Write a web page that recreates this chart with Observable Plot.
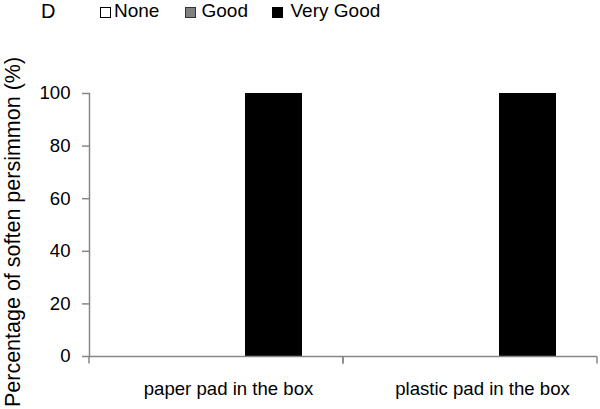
<!DOCTYPE html>
<html>
<head>
<meta charset="utf-8">
<script src="https://cdn.jsdelivr.net/npm/d3@7"></script>
<script src="https://cdn.jsdelivr.net/npm/@observablehq/plot@0.6"></script>
<style>
  body { margin: 0; background: #fff; font-family: "Liberation Sans", Arial, sans-serif; }
  #wrap { width: 600px; position: relative; }
  #legend { position: relative; height: 24px; width: 600px; font-size: 19px; line-height: 22px; color: #000; }
  #legend span { position: absolute; top: 0; white-space: nowrap; }
  #legend i { position: absolute; top: 7px; width: 9px; height: 9px; border: 1px solid #000; }
</style>
</head>
<body>
<div id="wrap">
  <div id="legend"></div>
  <div id="chart"></div>
</div>
<script>
const panelLabel = "D";
const categories = ["paper pad in the box", "plastic pad in the box"];
const series = ["None", "Good", "Very Good"];
const noneValues = [0, 0];
const goodValues = [0, 0];
const veryGoodValues = [100, 100];
const yTicks = [0, 20, 40, 60, 80, 100];
const yLabel = "Percentage of soften persimmon (%)";
const seriesColors = ["#ffffff", "#808080", "#000000"];
const seriesBorders = ["#000000", "#333333", "#000000"];

const valuesBySeries = [noneValues, goodValues, veryGoodValues];
const data = [];
categories.forEach((c, i) => series.forEach((s, j) => data.push({category: c, series: s, value: valuesBySeries[j][i]})));

// legend
const legend = document.getElementById("legend");
const d = document.createElement("span");
d.textContent = panelLabel; d.style.left = "41px"; d.style.fontSize = "20px";
legend.appendChild(d);
const swatchX = [100, 185, 272];
const textX = [114, 201.5, 290.5];
series.forEach((s, j) => {
  const sw = document.createElement("i");
  sw.style.left = swatchX[j] + "px";
  sw.style.background = seriesColors[j];
  sw.style.borderColor = seriesBorders[j];
  legend.appendChild(sw);
  const t = document.createElement("span");
  t.textContent = s; t.style.left = textX[j] + "px";
  legend.appendChild(t);
});

const axisColor = "#878787";

function baselineWithTicks(index, scales, values, dimensions, context, next) {
  const g = next(index, scales, values, dimensions, context);
  const {marginLeft, marginRight, width} = dimensions;
  const y0 = scales.y(0);
  for (const x of [marginLeft, width - marginRight]) {
    const line = document.createElementNS("http://www.w3.org/2000/svg", "line");
    line.setAttribute("x1", x); line.setAttribute("x2", x);
    line.setAttribute("y1", y0); line.setAttribute("y2", y0 + 7);
    line.setAttribute("stroke", axisColor);
    line.setAttribute("stroke-width", 1.5);
    g.appendChild(line);
  }
  return g;
}

const chart = Plot.plot({
  width: 600,
  height: 385,
  marginTop: 69,
  marginBottom: 53,
  marginLeft: 89,
  marginRight: 3,
  style: {fontFamily: "'Liberation Sans', Arial, sans-serif", fontSize: "18.6px", color: "#000", background: "#fff"},
  fx: {domain: categories, padding: 0},
  x: {domain: series, paddingInner: 0, paddingOuter: 0.7, axis: null},
  y: {domain: [0, 100]},
  color: {domain: series, range: seriesColors},
  marks: [
    Plot.barY(data, {fx: "category", x: "series", y: "value", fill: "series"}),
    Plot.ruleY([0], {stroke: axisColor, strokeWidth: 1.5, render: baselineWithTicks}),
    Plot.frame({anchor: "left", stroke: axisColor, strokeWidth: 1.5, fx: () => categories[0]}),
    Plot.axisY(yTicks, {tickSize: 7, tickPadding: 12, stroke: axisColor, strokeWidth: 1.5, fill: "#000", label: null, fontSize: 18.6}),
    Plot.axisFx({anchor: "bottom", tickSize: 0, tickPadding: 25, dx: 12, label: null, fill: "#000", fontSize: 18.6}),
    Plot.text([yLabel], {fx: () => categories[0], text: d => d, frameAnchor: "left", textAnchor: "middle", rotate: -90, dx: -76.5, dy: 7, fontSize: 21.5, fill: "#000"})
  ]
});
document.getElementById("chart").appendChild(chart);
</script>
</body>
</html>
